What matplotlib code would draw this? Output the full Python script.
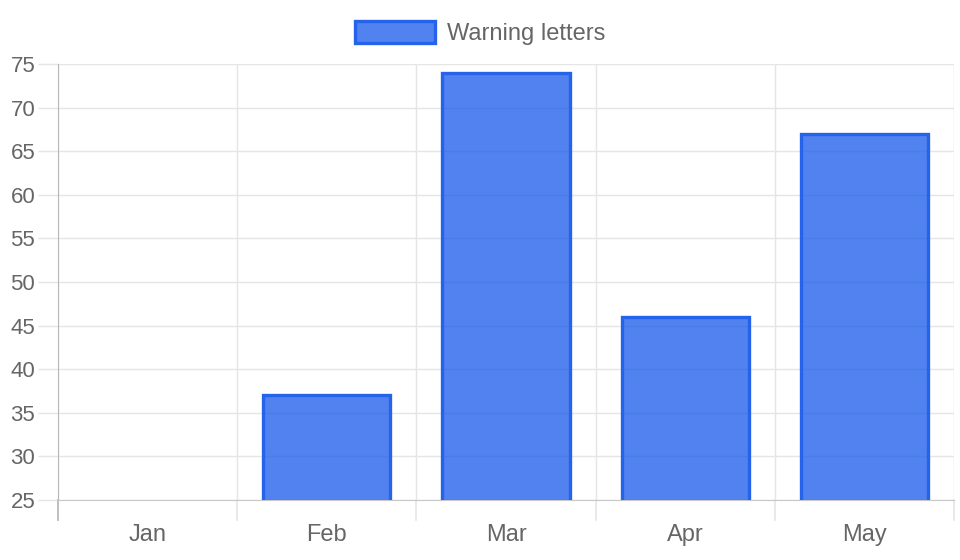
import matplotlib.pyplot as plt
from matplotlib.patches import Patch

# data
months = ['Jan', 'Feb', 'Mar', 'Apr', 'May']
warning_letters = [20, 37, 74, 46, 67]
y_ticks = [25, 30, 35, 40, 45, 50, 55, 60, 65, 70, 75]

plt.rcParams['font.family'] = ['Liberation Sans', 'DejaVu Sans']

FILL = (37 / 255, 99 / 255, 235 / 255, 0.8)
EDGE = '#2563EB'
GRID = '#e5e5e5'
TEXT = '#666666'

fig = plt.figure(figsize=(9.6, 5.6), dpi=100)
ax = fig.add_axes([58 / 960, 60 / 560, 896 / 960, 436 / 560])

x = range(len(months))
ax.bar(x, warning_letters, width=0.71, bottom=0, color=FILL,
       edgecolor=EDGE, linewidth=2.4, zorder=3)

ax.set_ylim(25, 75)
ax.set_xlim(-0.5, len(months) - 0.5)
ax.set_yticks(y_ticks)
ax.set_xticks(list(x))
ax.set_xticklabels(months)

# grid lines at category boundaries (offset grid like chart.js)
for b in [i - 0.5 for i in range(len(months) + 1)]:
    ax.axvline(b, color=GRID, lw=1, zorder=1)
    ax.plot([b, b], [0, -0.046], transform=ax.get_xaxis_transform(),
            color=GRID, lw=1.2, clip_on=False)
for t in y_ticks:
    ax.axhline(t, color=GRID, lw=1, zorder=1)

ax.tick_params(axis='y', length=14.4, width=1.0, color=GRID, pad=2,
               labelsize=16, labelcolor=TEXT)
ax.tick_params(axis='x', length=0, pad=17, labelsize=17, labelcolor=TEXT)

for s in ['top', 'right']:
    ax.spines[s].set_visible(False)
ax.spines['left'].set_color('#b8b8b8')
ax.spines['bottom'].set_color('#c8c8c8')
ax.spines['left'].set_bounds(25, 75)
ax.plot([0, 0], [0, -0.046], transform=ax.transAxes, color='#b8b8b8',
        lw=1.2, clip_on=False)

handle = Patch(facecolor=FILL, edgecolor=EDGE, linewidth=2.4)
fig.legend(handles=[handle], labels=['Warning letters'], loc='center',
           bbox_to_anchor=(0.5, 1 - 33 / 560), frameon=False, fontsize=17,
           handlelength=3.4, handleheight=1.05, handletextpad=0.5,
           labelcolor=TEXT)

fig.savefig('out.png', dpi=100)
